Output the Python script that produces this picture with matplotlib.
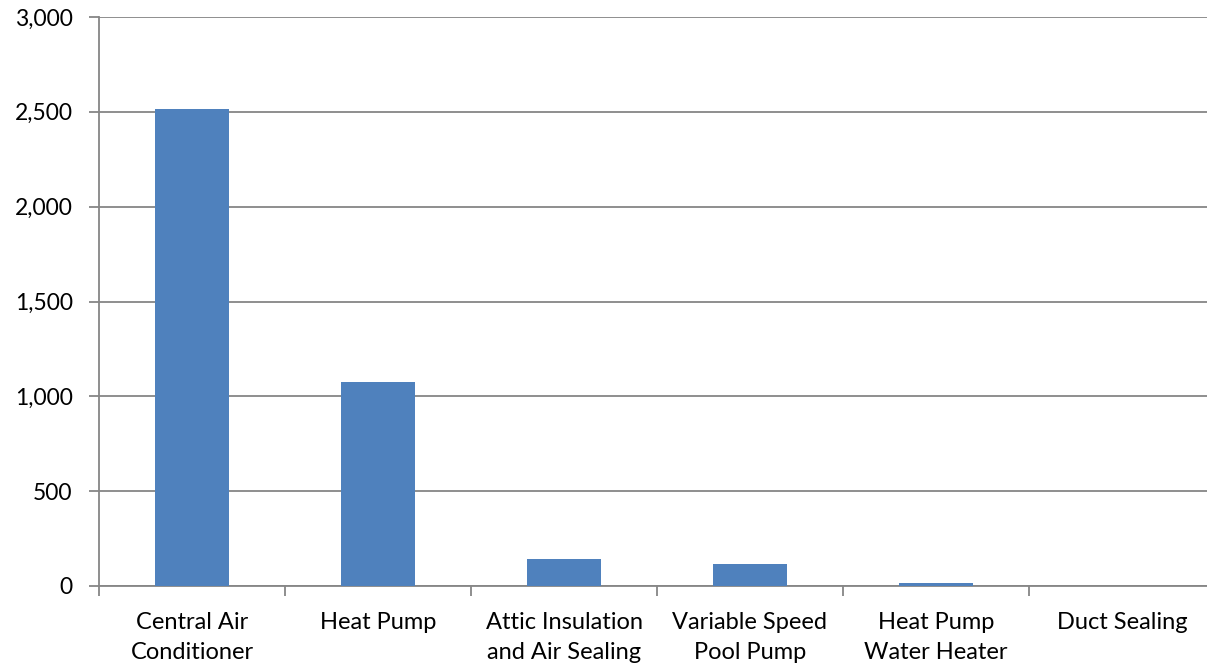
import matplotlib
matplotlib.use("Agg")
import matplotlib.pyplot as plt
import numpy as np

categories = ["Central Air\nConditioner", "Heat Pump", "Attic Insulation\nand Air Sealing",
              "Variable Speed\nPool Pump", "Heat Pump\nWater Heater", "Duct Sealing"]
values = [2515, 1075, 140, 116, 18, 1]
yticks = [0, 500, 1000, 1500, 2000, 2500, 3000]

plt.rcParams['font.family'] = ['Lato', 'DejaVu Sans']

W, H = 1207, 666
fig = plt.figure(figsize=(W/100, H/100), dpi=100)
ax = fig.add_axes([99/W, 80/H, (1215-99)/W, (586-17)/H])

x = np.arange(len(categories))
ax.bar(x, values, width=0.4, color="#4F81BD", zorder=3)
ax.set_xlim(-0.5, len(categories)-0.5)
ax.set_ylim(0, 3000)
ax.set_yticks(yticks)
ax.set_yticklabels([f"{v:,}" for v in yticks], fontsize=16.5)
ax.yaxis.grid(True, color="#868686", linewidth=1.3, zorder=0)
ax.tick_params(axis='y', length=7, color="#868686", width=1.3, pad=12)

ax.set_xticks(x)
ax.set_xticklabels(categories, fontsize=17, linespacing=1.5)
ax.tick_params(axis='x', which='major', length=0, pad=19)
ax.set_xticks(np.arange(len(categories)+1) - 0.5, minor=True)
ax.tick_params(axis='x', which='minor', length=7, color="#868686", width=1.3)

for s in ['top', 'right']:
    ax.spines[s].set_visible(False)
for s in ['left', 'bottom']:
    ax.spines[s].set_color("#868686")
    ax.spines[s].set_linewidth(1.3)

fig.savefig("out.png", dpi=100)
